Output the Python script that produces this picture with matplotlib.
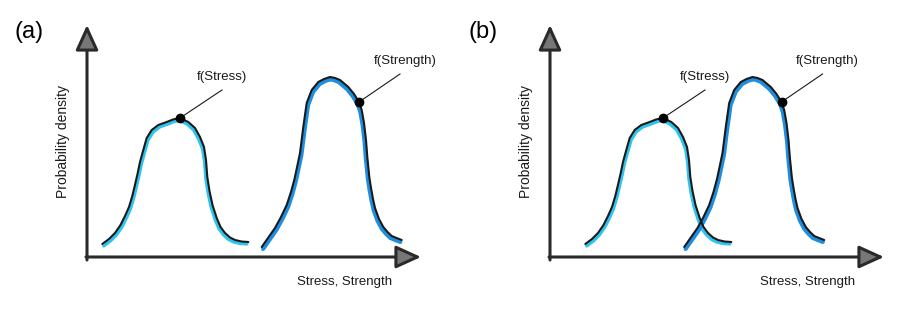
import matplotlib.pyplot as plt
from matplotlib.transforms import offset_copy

plt.rcParams['font.family'] = ['Liberation Sans', 'DejaVu Sans']

stress_x = [1.53, 2.20, 2.80, 3.35, 3.80, 4.20, 4.53, 4.77, 5.05, 5.30, 5.63,
            5.97, 6.47, 7.13, 7.97, 8.60, 9.30, 10.13, 10.80, 11.30, 11.70, 11.90,
            12.03, 12.25, 12.55, 12.97, 13.35, 13.80, 14.30, 14.80, 15.45, 16.13]
stress_y = [0.13, 0.18, 0.24, 0.32, 0.41, 0.50, 0.61, 0.71, 0.83, 0.95, 1.07,
            1.19, 1.27, 1.32, 1.35, 1.375, 1.39, 1.35, 1.29, 1.20, 1.10, 0.97,
            0.80, 0.66, 0.52, 0.39, 0.30, 0.24, 0.195, 0.17, 0.155, 0.15]
strength_x = [17.47, 18.10, 18.80, 19.40, 19.97, 20.40, 20.75, 21.05, 21.30, 21.63,
              21.97, 22.47, 23.13, 23.70, 24.30, 24.80, 25.30, 26.13, 26.70, 27.20,
              27.47, 27.70, 27.90, 28.03, 28.23, 28.40, 28.60, 28.80, 29.20, 29.63,
              30.05, 30.47, 30.95, 31.47]
strength_y = [0.10, 0.19, 0.29, 0.40, 0.52, 0.65, 0.78, 0.92, 1.04, 1.30,
              1.54, 1.67, 1.75, 1.78, 1.80, 1.79, 1.77, 1.70, 1.63, 1.55,
              1.47, 1.34, 1.17, 1.00, 0.80, 0.69, 0.58, 0.49, 0.38, 0.30,
              0.25, 0.21, 0.19, 0.17]

# point marqué sur chaque courbe
stress_dot = 16
strength_dot = 19

panel_labels = ["(a)", "(b)"]
stress_shift = [0.0, 2.0]
strength_shift = [0.0, -4.05]

xlabel = "Stress, Strength"
ylabel = "Probability density"

fig = plt.figure(figsize=(9, 3.1), dpi=100)

ink = "#1a1a1a"
pencil = "#333333"


def draw_curve(ax, xs, ys, blue, blue_lw, dot, text, line_off, text_off):
    # trait bleu décalé vers l'intérieur de la cloche
    top = ys.index(max(ys))
    for seg, dx in ((slice(0, top + 1), 1.0), (slice(top, None), -1.0)):
        tr = offset_copy(ax.transData, fig=fig, x=dx, y=-1.4, units='points')
        ax.plot(xs[seg], ys[seg], color=blue, lw=blue_lw, transform=tr,
                solid_capstyle='round', solid_joinstyle='round', zorder=2)
    ax.plot(xs, ys, color=ink, lw=1.5,
            solid_capstyle='round', solid_joinstyle='round', zorder=3)
    px, py = xs[dot], ys[dot]
    ax.plot([px, px + line_off[0]], [py, py + line_off[1]], color=ink, lw=0.8, zorder=4)
    ax.plot(px, py, 'o', color="black", ms=6, zorder=5)
    ax.text(px + text_off[0], py + text_off[1], text, ha='center', va='center',
            fontsize=9.5, color=ink)


def draw_panel(ax, k, x0):
    ax.set_xlim(-x0 / 10, (450 - x0) / 10)
    ax.set_ylim(-0.53, 2.57)
    ax.axis('off')

    # axes dessinés à la main
    arrow = dict(arrowstyle='-|>,head_length=1.1,head_width=0.5', lw=2.2,
                 color=pencil, fc="#777777", ec="#2a2a2a", mutation_scale=14,
                 shrinkA=0, shrinkB=0)
    ax.annotate('', xy=(0, 2.32), xytext=(0, -0.03), arrowprops=arrow)
    ax.annotate('', xy=(33.4, 0), xytext=(-0.1, 0), arrowprops=arrow)

    sx = [x + stress_shift[k] for x in stress_x]
    gx = [x + strength_shift[k] for x in strength_x]
    draw_curve(ax, sx, stress_y, "#2ec4f0", 2.4, stress_dot, "f(Stress)",
               (4.2, 0.28), (4.2, 0.41))
    draw_curve(ax, gx, strength_y, "#1e8fe0", 3.0, strength_dot, "f(Strength)",
               (4.1, 0.28), (4.6, 0.41))

    ax.text(-2.4, 1.15, ylabel, rotation=90, ha='center', va='center',
            fontsize=10, color=ink)
    ax.text(25.8, -0.25, xlabel, ha='center', va='center', fontsize=9.5, color=ink)


ax_a = fig.add_axes([0, 0, 0.5, 1])
draw_panel(ax_a, 0, 87)
ax_b = fig.add_axes([0.5, 0, 0.5, 1])
draw_panel(ax_b, 1, 100)

fig.text(15 / 900, 1 - 32 / 310, panel_labels[0], fontsize=17, va='center', ha='left')
fig.text(468 / 900, 1 - 32 / 310, panel_labels[1], fontsize=17, va='center', ha='left')

plt.savefig("out.png", dpi=100)
